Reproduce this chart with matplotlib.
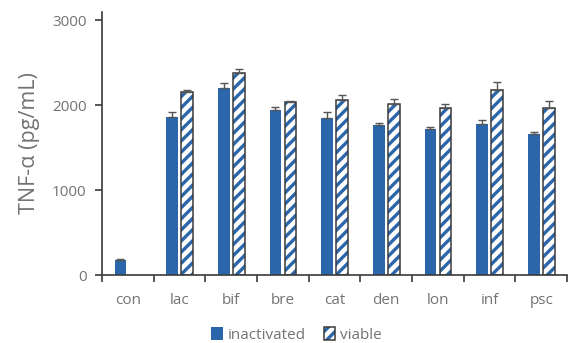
import numpy as np
import matplotlib
matplotlib.use("Agg")
from matplotlib import pyplot as plt
from matplotlib.patches import Patch
from matplotlib.legend_handler import HandlerTuple

plt.rcParams['font.family'] = ['Open Sans', 'DejaVu Sans']
plt.rcParams['hatch.linewidth'] = 2.4

groups = ['con', 'lac', 'bif', 'bre', 'cat', 'den', 'lon', 'inf', 'psc']
inactivated = [180, 1867, 2207, 1946, 1856, 1770, 1720, 1782, 1661]
inactivated_err = [10, 50, 50, 30, 60, 20, 30, 45, 20]
# no viable sample for the control group
viable = [np.nan, 2153, 2380, 2040, 2059, 2012, 1970, 2184, 1973]
viable_err = [0, 25, 45, 5, 65, 60, 40, 95, 75]

blue = '#2a66a9'
edge = '#3a3a3a'
grey = '#737373'

fig = plt.figure(figsize=(5.7, 3.43), dpi=100)
ax = fig.add_axes([0.179, 0.197, 0.816, 0.769])

x = np.arange(len(groups))
w = 0.225
off = 0.145

ax.bar(x - off, inactivated, w, color=blue, linewidth=0)
ax.errorbar(x - off, inactivated, yerr=[np.zeros(len(x)), inactivated_err],
            fmt='none', ecolor='#555555', elinewidth=1, capsize=3, capthick=1)

vx = x[1:] + off
vy = np.array(viable[1:])
ax.bar(vx, vy, w, color='white', edgecolor=blue, hatch='///', linewidth=0)
ax.bar(vx, vy, w, fill=False, edgecolor=edge, linewidth=1.1)
ax.errorbar(vx, vy, yerr=[np.zeros(len(vx)), viable_err[1:]],
            fmt='none', ecolor='#555555', elinewidth=1, capsize=3, capthick=1)

ax.set_xlim(-0.5, 8.34)
ax.set_ylim(0, 3100)
ax.set_yticks([0, 1000, 2000, 3000])
ax.set_xticks(np.arange(len(groups) + 1) - 0.5)
ax.set_xticklabels([])
ax.set_xticks(x, minor=True)
ax.set_xticklabels(groups, minor=True)
ax.tick_params(axis='x', which='minor', length=0, pad=13, labelsize=11, labelcolor=grey)
ax.tick_params(axis='x', which='major', length=5, width=1.2, color=edge)
ax.tick_params(axis='y', length=5, width=1.2, color=edge, labelsize=11,
               labelcolor=grey, pad=6)

for s in ['top', 'right']:
    ax.spines[s].set_visible(False)
for s in ['left', 'bottom']:
    ax.spines[s].set_color(edge)
    ax.spines[s].set_linewidth(1.2)

ax.set_ylabel('TNF-α (pg/mL)', fontsize=15.5, color=grey, labelpad=9)

h_inact = Patch(facecolor=blue, linewidth=0)
h_viable = (Patch(facecolor='white', edgecolor=blue, hatch='///', linewidth=0),
            Patch(fill=False, edgecolor=edge, linewidth=1.1))
leg = fig.legend([h_inact, h_viable], ['inactivated', 'viable'],
                 handler_map={tuple: HandlerTuple(ndivide=1, pad=0)},
                 loc='lower center', bbox_to_anchor=(0.52, -0.04),
                 ncol=2, frameon=False, handlelength=0.75, handleheight=0.9,
                 handletextpad=0.3, columnspacing=1.2, fontsize=11)
for t in leg.get_texts():
    t.set_color(grey)

fig.savefig('out.png', dpi=100)
